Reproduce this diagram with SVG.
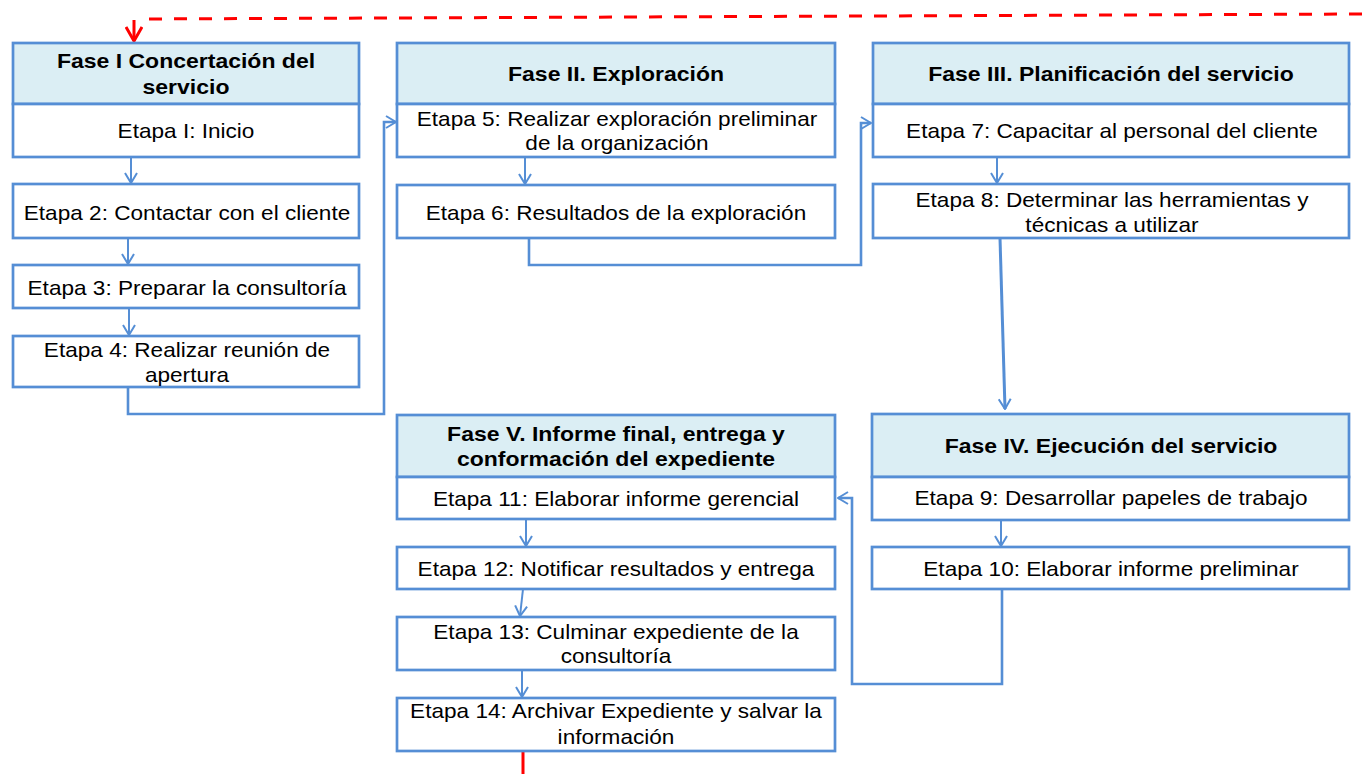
<svg xmlns="http://www.w3.org/2000/svg" width="1362" height="774" viewBox="0 0 1362 774">
<defs>
<style>
.b{fill:#fff;stroke:#558ED5;stroke-width:2.7}
.hd{fill:#DBEEF4;stroke:#558ED5;stroke-width:2.7}
.t{font-family:"Liberation Sans",Arial,sans-serif;font-size:20px;fill:#000;text-anchor:middle}
.h{font-weight:bold}
.c{fill:none;stroke:#558ED5;stroke-width:2.6}
.s{fill:none;stroke:#558ED5;stroke-width:2}
</style>
<marker id="a" viewBox="0 0 12 14" refX="11" refY="7" markerWidth="12" markerHeight="14" markerUnits="userSpaceOnUse" orient="auto">
<path d="M1,1 L11,7 L1,13" fill="none" stroke="#558ED5" stroke-width="2"/>
</marker>
<marker id="r" viewBox="0 0 16 18" refX="15" refY="9" markerWidth="16" markerHeight="18" markerUnits="userSpaceOnUse" orient="auto">
<path d="M1,1 L15,9 L1,17" fill="none" stroke="#FF0000" stroke-width="3"/>
</marker>
</defs>
<rect width="1362" height="774" fill="#fff"/>

<g id="connectors">
<path class="s" d="M131,157 V183" marker-end="url(#a)"/>
<path class="s" d="M128,238 V264" marker-end="url(#a)"/>
<path class="s" d="M129,308 V335" marker-end="url(#a)"/>
<path class="c" d="M128,387 V414 H384 V122 H396" marker-end="url(#a)"/>
<path class="s" d="M525,157 V184" marker-end="url(#a)"/>
<path class="c" d="M529,238 V265 H861 V123 H871" marker-end="url(#a)"/>
<path class="s" d="M997,157 V183" marker-end="url(#a)"/>
<path fill="none" stroke="#558ED5" stroke-width="3" d="M1000,238 L1005,409" marker-end="url(#a)"/>
<path class="s" d="M1001,520 V546" marker-end="url(#a)"/>
<path class="c" d="M1002,589 V684 H852 V498 H838" marker-end="url(#a)"/>
<path class="s" d="M526,519 V546" marker-end="url(#a)"/>
<path class="s" d="M523,589 L520,616" marker-end="url(#a)"/>
<path class="s" d="M522,670 V697" marker-end="url(#a)"/>
<path fill="none" stroke="#FF0000" stroke-width="3" stroke-dasharray="13 12" d="M1362,14 L143,19"/>
<path fill="none" stroke="#FF0000" stroke-width="3" d="M134,20 V41" marker-end="url(#r)"/>
<path fill="none" stroke="#FF0000" stroke-width="3" d="M523,752 V774"/>
</g>

<g id="fase1">
<rect class="hd" x="13" y="43" width="346" height="61"/>
<text class="t h" transform="translate(186,68) scale(1.15,1)">Fase I Concertación del<tspan x="0" dy="26">servicio</tspan></text>
</g>
<g id="etapa1">
<rect class="b" x="13" y="104" width="346" height="53"/>
<text class="t" transform="translate(186,138) scale(1.13,1)">Etapa I: Inicio</text>
</g>
<g id="etapa2">
<rect class="b" x="13" y="184" width="346" height="54"/>
<text class="t" transform="translate(187,220) scale(1.13,1)">Etapa 2: Contactar con el cliente</text>
</g>
<g id="etapa3">
<rect class="b" x="13" y="265" width="346" height="43"/>
<text class="t" transform="translate(187,295) scale(1.13,1)">Etapa 3: Preparar la consultoría</text>
</g>
<g id="etapa4">
<rect class="b" x="13" y="336" width="346" height="51"/>
<text class="t" transform="translate(187,357) scale(1.13,1)">Etapa 4: Realizar reunión de<tspan x="0" dy="25">apertura</tspan></text>
</g>

<g id="fase2">
<rect class="hd" x="397" y="43" width="438" height="61"/>
<text class="t h" transform="translate(616,81) scale(1.15,1)">Fase II. Exploración</text>
</g>
<g id="etapa5">
<rect class="b" x="397" y="104" width="438" height="53"/>
<text class="t" transform="translate(617,126) scale(1.13,1)">Etapa 5: Realizar exploración preliminar<tspan x="0" dy="24">de la organización</tspan></text>
</g>
<g id="etapa6">
<rect class="b" x="397" y="185" width="438" height="53"/>
<text class="t" transform="translate(616,220) scale(1.13,1)">Etapa 6: Resultados de la exploración</text>
</g>

<g id="fase3">
<rect class="hd" x="873" y="43" width="476" height="61"/>
<text class="t h" transform="translate(1111,81) scale(1.15,1)">Fase III. Planificación del servicio</text>
</g>
<g id="etapa7">
<rect class="b" x="873" y="104" width="476" height="53"/>
<text class="t" transform="translate(1112,138) scale(1.13,1)">Etapa 7: Capacitar al personal del cliente</text>
</g>
<g id="etapa8">
<rect class="b" x="873" y="184" width="476" height="54"/>
<text class="t" transform="translate(1112,207) scale(1.13,1)">Etapa 8: Determinar las herramientas y<tspan x="0" dy="25">técnicas a utilizar</tspan></text>
</g>

<g id="fase4">
<rect class="hd" x="872" y="414" width="477" height="63"/>
<text class="t h" transform="translate(1111,453) scale(1.15,1)">Fase IV. Ejecución del servicio</text>
</g>
<g id="etapa9">
<rect class="b" x="872" y="477" width="477" height="43"/>
<text class="t" transform="translate(1111,505) scale(1.13,1)">Etapa 9: Desarrollar papeles de trabajo</text>
</g>
<g id="etapa10">
<rect class="b" x="872" y="547" width="477" height="42"/>
<text class="t" transform="translate(1111,576) scale(1.13,1)">Etapa 10: Elaborar informe preliminar</text>
</g>

<g id="fase5">
<rect class="hd" x="397" y="415" width="438" height="62"/>
<text class="t h" transform="translate(616,441) scale(1.15,1)">Fase V. Informe final, entrega y<tspan x="0" dy="25">conformación del expediente</tspan></text>
</g>
<g id="etapa11">
<rect class="b" x="397" y="477" width="438" height="42"/>
<text class="t" transform="translate(616,506) scale(1.13,1)">Etapa 11: Elaborar informe gerencial</text>
</g>
<g id="etapa12">
<rect class="b" x="397" y="547" width="438" height="42"/>
<text class="t" transform="translate(616,576) scale(1.13,1)">Etapa 12: Notificar resultados y entrega</text>
</g>
<g id="etapa13">
<rect class="b" x="397" y="617" width="438" height="53"/>
<text class="t" transform="translate(616,639) scale(1.13,1)">Etapa 13: Culminar expediente de la<tspan x="0" dy="24">consultoría</tspan></text>
</g>
<g id="etapa14">
<rect class="b" x="397" y="698" width="438" height="53"/>
<text class="t" transform="translate(616,718) scale(1.13,1)">Etapa 14: Archivar Expediente y salvar la<tspan x="0" dy="26">información</tspan></text>
</g>
</svg>
